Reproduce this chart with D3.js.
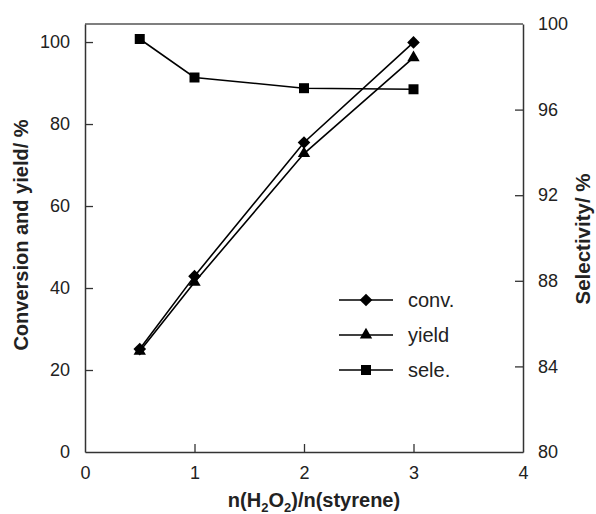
<!DOCTYPE html>
<meta charset="utf-8">
<head>
<style>
  body { margin: 0; background: #fff; }
  text { font-family: "Liberation Sans", Arial, sans-serif; fill: #222; }
</style>
</head>
<body>
<svg id="chart"></svg>
<script src="https://d3js.org/d3.v7.min.js"></script>
<script>

// data
var ratio = [0.5, 1, 2, 3];
var conv = [25.1, 42.9, 75.5, 99.9];
var yieldVals = [24.6, 41.4, 72.8, 96.2];
var sele = [99.3, 97.5, 97.0, 96.95];

var xTicks = [0, 1, 2, 3, 4];
var leftTicks = [0, 20, 40, 60, 80, 100];
var rightTicks = [80, 84, 88, 92, 96, 100];

var W = 596, H = 514;
var margin = {top: 24, right: 73, bottom: 62, left: 85},
    width = W - margin.left - margin.right,
    height = H - margin.top - margin.bottom;

var svg = d3.select("#chart")
    .attr("width", W)
    .attr("height", H)
  .append("g")
    .attr("transform", "translate(" + margin.left + "," + margin.top + ")");

var x = d3.scaleLinear().domain([0, 4]).range([0, width]);
var y = d3.scaleLinear().domain([0, 104.4]).range([height, 0]);
var y2 = d3.scaleLinear().domain([80, 100]).range([height, 0]);

var xAxis = d3.axisBottom(x).tickValues(xTicks).tickFormat(d3.format("d"))
    .tickSizeInner(-8).tickSizeOuter(0).tickPadding(14);
var yAxis = d3.axisLeft(y).tickValues(leftTicks).tickFormat(d3.format("d"))
    .tickSizeInner(-8).tickSizeOuter(0).tickPadding(15);
var yAxis2 = d3.axisRight(y2).tickValues(rightTicks).tickFormat(d3.format("d"))
    .tickSizeInner(-8).tickSizeOuter(0).tickPadding(15);

// top frame line
svg.append("line")
    .attr("x1", 0).attr("x2", width)
    .attr("y1", 0).attr("y2", 0)
    .style("stroke", "#555").style("stroke-width", 1.5);

function styleAxis(g) {
  g.select(".domain").style("stroke", "#333").style("stroke-width", 1.5);
  g.selectAll(".tick line").style("stroke", "#333").style("stroke-width", 1.3);
  g.selectAll(".tick text").style("font-size", "18px").style("fill", "#222")
    .style("font-family", "'Liberation Sans', Arial, sans-serif");
}

var gx = svg.append("g")
    .attr("transform", "translate(0," + height + ")")
    .call(xAxis).call(styleAxis);
// no tick marks where the x axis meets the y axes
gx.selectAll(".tick line").filter(function(d) { return d === 0 || d === 4; }).remove();

var gy = svg.append("g").call(yAxis).call(styleAxis);
gy.selectAll(".tick line").filter(function(d) { return d === 0; }).remove();

var gy2 = svg.append("g")
    .attr("transform", "translate(" + width + ",0)")
    .call(yAxis2).call(styleAxis);
gy2.selectAll(".tick line").filter(function(d) { return d === 80 || d === 100; }).remove();

// series
var series = [
  {name: "conv.", vals: conv, scale: y, sym: d3.symbolSquare, size: 80, rot: 45},
  {name: "yield", vals: yieldVals, scale: y, sym: d3.symbolTriangle, size: 66, rot: 0},
  {name: "sele.", vals: sele, scale: y2, sym: d3.symbolSquare, size: 100, rot: 0}
];

series.forEach(function(s) {
  var pts = ratio.map(function(r, i) { return [r, s.vals[i]]; });
  var line = d3.line()
      .x(function(d) { return x(d[0]); })
      .y(function(d) { return s.scale(d[1]); });
  svg.append("path")
      .datum(pts)
      .attr("d", line)
      .style("fill", "none")
      .style("stroke", "#000")
      .style("stroke-width", 1.6);
  svg.selectAll(null)
      .data(pts)
    .enter().append("path")
      .attr("d", d3.symbol().type(s.sym).size(s.size))
      .attr("transform", function(d) {
        return "translate(" + x(d[0]) + "," + s.scale(d[1]) + ") rotate(" + s.rot + ")";
      })
      .style("fill", "#000");
});

// legend
var legend = svg.append("g").attr("transform", "translate(" + (339 - margin.left) + "," + (300 - margin.top) + ")");
series.forEach(function(s, i) {
  var g = legend.append("g").attr("transform", "translate(0," + (i * 35) + ")");
  g.append("line").attr("x1", 0).attr("x2", 54).attr("y1", 0).attr("y2", 0)
    .style("stroke", "#000").style("stroke-width", 1.6);
  g.append("path").attr("d", d3.symbol().type(s.sym).size(s.size))
    .attr("transform", "translate(27,0) rotate(" + s.rot + ")").style("fill", "#000");
  g.append("text").attr("x", 69).attr("y", 7).text(s.name).style("font-size", "20px");
});

// axis titles
svg.append("text")
    .attr("transform", "translate(" + (28 - margin.left) + "," + (235 - margin.top) + ") rotate(-90)")
    .style("text-anchor", "middle")
    .style("font-weight", "bold")
    .style("font-size", "20px")
    .text("Conversion and yield/ %");

svg.append("text")
    .attr("transform", "translate(" + (590 - margin.left) + "," + (239 - margin.top) + ") rotate(-90)")
    .style("text-anchor", "middle")
    .style("font-weight", "bold")
    .style("font-size", "20.5px")
    .text("Selectivity/ %");

var xt = svg.append("text")
    .attr("x", 314 - margin.left)
    .attr("y", 507 - margin.top)
    .style("text-anchor", "middle")
    .style("font-weight", "bold")
    .style("font-size", "20px");
xt.append("tspan").text("n(H");
xt.append("tspan").text("2").style("font-size", "13px").attr("dy", 5);
xt.append("tspan").text("O").attr("dy", -5);
xt.append("tspan").text("2").style("font-size", "13px").attr("dy", 5);
xt.append("tspan").text(")/n(styrene)").attr("dy", -5);

</script>
</body>
